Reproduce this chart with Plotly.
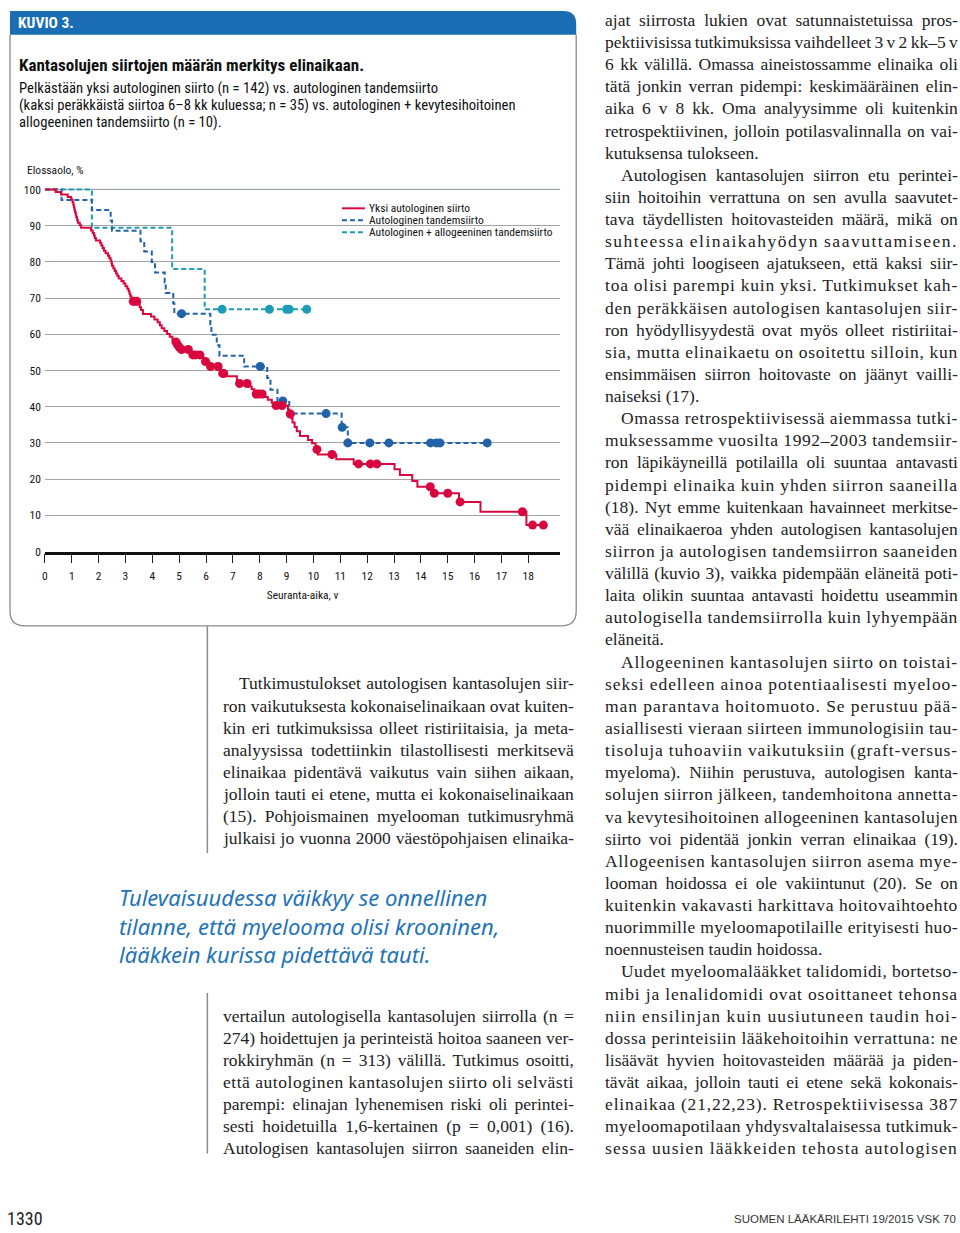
import json
import plotly.graph_objects as go

W, H = 960, 1233


def px(x):
    return x / W


def py(y):
    return 1 - y / H


# ---------------- data (Kaplan-Meier curves) ----------------
years = list(range(0, 19))
y_ticks = list(range(0, 101, 10))

# Yksi autologinen siirto (n = 142)
red_t = [0, 0.4, 0.6, 0.85, 0.98, 1.03, 1.06, 1.08, 1.1, 1.12, 1.15, 1.17, 1.2, 1.23, 1.3, 1.35,
         1.72, 1.78, 1.83, 1.86, 1.9, 2.06, 2.1, 2.15, 2.2, 2.26, 2.35, 2.4, 2.45, 2.48, 2.5, 2.55,
         2.6, 2.65, 2.7, 2.75, 2.85, 2.93, 3.0, 3.07, 3.12, 3.15, 3.18, 3.22, 3.25, 3.48, 3.53, 3.58,
         3.65, 3.95, 4.08, 4.2, 4.28, 4.35, 4.45, 4.55, 4.65, 4.75, 4.85, 4.91, 4.97, 5.04, 5.45, 5.5,
         5.9, 5.95, 6.12, 6.55, 6.6, 6.7, 7.15, 7.2, 7.6, 7.7, 7.8, 7.85, 8.2, 8.3, 8.45, 8.55, 9.05,
         9.1, 9.18, 9.22, 9.3, 9.38, 9.5, 9.8, 9.95, 10.08, 10.16, 10.85, 11.5, 13.02, 13.22, 13.68,
         13.87, 14.45, 15.42, 16.22, 17.93, 18.56]
red_s = [100, 99.3, 98.6, 97.9, 97.2, 96.5, 95.8, 95.1, 94.4, 93.7, 93.0, 92.3, 91.5, 90.8, 90.1, 89.4,
         88.7, 88.0, 87.3, 86.6, 85.9, 85.2, 84.5, 83.8, 83.1, 82.4, 81.7, 81.0, 80.3, 79.6, 78.9, 78.2,
         77.5, 76.8, 76.1, 75.4, 74.7, 74.0, 73.3, 72.6, 71.9, 71.2, 70.5, 69.8, 69.1, 68.3, 67.5, 66.7,
         65.6, 64.9, 64.1, 63.3, 62.5, 61.7, 60.9, 60.1, 59.3, 58.5, 57.9, 57.2, 56.5, 55.8, 55.0, 54.3,
         53.4, 52.5, 51.1, 49.9, 49.2, 48.4, 47.3, 46.4, 45.6, 44.8, 44.0, 43.5, 42.7, 41.9, 41.1, 40.3, 39.2,
         38.0, 36.8, 35.6, 34.4, 33.2, 31.9, 30.8, 29.9, 28.2, 26.8, 25.5, 24.2, 22.7, 21.1, 19.5,
         17.9, 16.1, 13.7, 11.0, 7.3, 7.3]
red_cens_t = [3.29, 3.35, 3.42, 4.88, 4.93, 5.0, 5.09, 5.34, 5.51, 5.61, 5.77, 5.98, 6.17, 6.45, 6.62,
              6.66, 7.25, 7.53, 7.87, 7.97, 8.09, 8.61, 8.83, 9.14, 10.13, 10.69, 11.68, 12.12, 12.36,
              14.35, 14.5, 15.0, 15.46, 17.78, 18.16, 18.56]
red_cens_s = [69.1, 69.1, 69.1, 57.9, 57.2, 56.5, 55.8, 55.8, 54.3, 54.3, 54.3, 52.5, 51.1, 51.1, 49.2,
              49.2, 46.4, 46.4, 43.5, 43.5, 43.5, 40.3, 40.3, 38.0, 28.2, 26.8, 24.2, 24.2, 24.2,
              17.9, 16.1, 16.1, 13.7, 11.0, 7.3, 7.3]

# Autologinen tandemsiirto (n = 35)
blue_t = [0, 0.62, 1.75, 2.45, 2.5, 3.56, 3.7, 3.98, 4.1, 4.46, 4.5, 4.78, 4.82, 6.16, 6.2, 6.4, 6.5,
          7.42, 8.28, 8.4, 8.66, 9.1, 11.05, 11.28, 16.47]
blue_s = [100, 97.1, 94.3, 91.4, 88.6, 85.7, 82.9, 80.0, 77.1, 74.3, 71.4, 68.6, 65.7, 62.8, 59.9, 57.0,
          54.1, 51.1, 47.9, 44.7, 41.6, 38.1, 34.3, 30.0, 30.0]
blue_cens_t = [5.09, 8.02, 8.86, 10.47, 11.07, 11.28, 12.1, 12.81, 14.36, 14.58, 14.71, 16.47]
blue_cens_s = [65.7, 51.1, 41.6, 38.1, 34.3, 30.0, 30.0, 30.0, 30.0, 30.0, 30.0, 30.0]

# Autologinen + allogeeninen tandemsiirto (n = 10)
teal_t = [0, 1.75, 4.74, 5.95, 9.75]
teal_s = [100, 89.4, 78.0, 66.9, 66.9]
teal_cens_t = [6.6, 8.36, 9.0, 9.1, 9.75]
teal_cens_s = [66.9, 66.9, 66.9, 66.9, 66.9]

legend_labels = ["Yksi autologinen siirto", "Autologinen tandemsiirto",
                 "Autologinen + allogeeninen tandemsiirto"]

# ---------------- text content ----------------
title = "Kantasolujen siirtojen määrän merkitys elinaikaan."
subtitle = ["Pelkästään yksi autologinen siirto (n = 142) vs. autologinen tandemsiirto",
            "(kaksi peräkkäistä siirtoa 6–8 kk kuluessa; n = 35) vs. autologinen + kevytesihoitoinen",
            "allogeeninen tandemsiirto (n = 10)."]

mid_upper = ["Tutkimustulokset autologisen kantasolujen siir-",
             "ron vaikutuksesta kokonaiselinaikaan ovat kuiten-",
             "kin eri tutkimuksissa olleet ristiriitaisia, ja meta-",
             "analyysissa todettiinkin tilastollisesti merkitsevä",
             "elinaikaa pidentävä vaikutus vain siihen aikaan,",
             "jolloin tauti ei etene, mutta ei kokonaiselinaikaan",
             "(15). Pohjoismainen myelooman tutkimusryhmä",
             "julkaisi jo vuonna 2000 väestöpohjaisen elinaika-"]

mid_lower = ["vertailun autologisella kantasolujen siirrolla (n =",
             "274) hoidettujen ja perinteistä hoitoa saaneen ver-",
             "rokkiryhmän (n = 313) välillä. Tutkimus osoitti,",
             "että autologinen kantasolujen siirto oli selvästi",
             "parempi: elinajan lyhenemisen riski oli perintei-",
             "sesti hoidetuilla 1,6-kertainen (p = 0,001) (16).",
             "Autologisen kantasolujen siirron saaneiden elin-"]

quote = ["Tulevaisuudessa väikkyy se onnellinen",
         "tilanne, että myelooma olisi krooninen,",
         "lääkkein kurissa pidettävä tauti."]

right_col = ["ajat siirrosta lukien ovat satunnaistetuissa pros-",
             "pektiivisissa tutkimuksissa vaihdelleet 3 v 2 kk–5 v",
             "6 kk välillä. Omassa aineistossamme elinaika oli",
             "tätä jonkin verran pidempi: keskimääräinen elin-",
             "aika 6 v 8 kk. Oma analyysimme oli kuitenkin",
             "retrospektiivinen, jolloin potilasvalinnalla on vai-",
             "kutuksensa tulokseen.",
             "Autologisen kantasolujen siirron etu perintei-",
             "siin hoitoihin verrattuna on sen avulla saavutet-",
             "tava täydellisten hoitovasteiden määrä, mikä on",
             "suhteessa elinaikahyödyn saavuttamiseen.",
             "Tämä johti loogiseen ajatukseen, että kaksi siir-",
             "toa olisi parempi kuin yksi. Tutkimukset kah-",
             "den peräkkäisen autologisen kantasolujen siir-",
             "ron hyödyllisyydestä ovat myös olleet ristiriitai-",
             "sia, mutta elinaikaetu on osoitettu silloin, kun",
             "ensimmäisen siirron hoitovaste on jäänyt vailli-",
             "naiseksi (17).",
             "Omassa retrospektiivisessä aiemmassa tutki-",
             "muksessamme vuosilta 1992–2003 tandemsiir-",
             "ron läpikäyneillä potilailla oli suuntaa antavasti",
             "pidempi elinaika kuin yhden siirron saaneilla",
             "(18). Nyt emme kuitenkaan havainneet merkitse-",
             "vää elinaikaeroa yhden autologisen kantasolujen",
             "siirron ja autologisen tandemsiirron saaneiden",
             "välillä (kuvio 3), vaikka pidempään eläneitä poti-",
             "laita olikin suuntaa antavasti hoidettu useammin",
             "autologisella tandemsiirrolla kuin lyhyempään",
             "eläneitä.",
             "Allogeeninen kantasolujen siirto on toistai-",
             "seksi edelleen ainoa potentiaalisesti myeloo-",
             "man parantava hoitomuoto. Se perustuu pää-",
             "asiallisesti vieraan siirteen immunologisiin tau-",
             "tisoluja tuhoaviin vaikutuksiin (graft-versus-",
             "myeloma). Niihin perustuva, autologisen kanta-",
             "solujen siirron jälkeen, tandemhoitona annetta-",
             "va kevytesihoitoinen allogeeninen kantasolujen",
             "siirto voi pidentää jonkin verran elinaikaa (19).",
             "Allogeenisen kantasolujen siirron asema mye-",
             "looman hoidossa ei ole vakiintunut (20). Se on",
             "kuitenkin vakavasti harkittava hoitovaihtoehto",
             "nuorimmille myeloomapotilaille erityisesti huo-",
             "noennusteisen taudin hoidossa.",
             "Uudet myeloomalääkket talidomidi, bortetso-",
             "mibi ja lenalidomidi ovat osoittaneet tehonsa",
             "niin ensilinjan kuin uusiutuneen taudin hoi-",
             "dossa perinteisiin lääkehoitoihin verrattuna: ne",
             "lisäävät hyvien hoitovasteiden määrää ja piden-",
             "tävät aikaa, jolloin tauti ei etene sekä kokonais-",
             "elinaikaa (21,22,23). Retrospektiivisessa 387",
             "myeloomapotilaan yhdysvaltalaisessa tutkimuk-",
             "sessa uusien lääkkeiden tehosta autologisen"]
right_indent = {7, 18, 29, 43}
right_para_end = {6, 17, 28, 42}

# ---------------- styles ----------------
RED = "#d8083e"
BLUE = "#2262a8"
TEAL = "#1d9db5"
HEADER_BLUE = "#1b6db4"
COND = "'Liberation Sans Narrow', 'Arial Narrow', 'Roboto Condensed', sans-serif"
SANS = "'Liberation Sans', Arial, sans-serif"
SERIF = "'Liberation Serif', 'Times New Roman', serif"
QUOTE_FONT = "'Noto Sans', 'Open Sans', sans-serif"
DASH = "5px,3px"
BODY = 17.5

fig = go.Figure()
fig.add_trace(go.Scatter(x=teal_t, y=teal_s, mode="lines", name=legend_labels[2],
                         line=dict(color=TEAL, width=2, dash=DASH, shape="hv")))
fig.add_trace(go.Scatter(x=teal_cens_t, y=teal_cens_s, mode="markers", name=legend_labels[2],
                         marker=dict(color=TEAL, size=9)))
fig.add_trace(go.Scatter(x=blue_t, y=blue_s, mode="lines", name=legend_labels[1],
                         line=dict(color=BLUE, width=2, dash=DASH, shape="hv")))
fig.add_trace(go.Scatter(x=blue_cens_t, y=blue_cens_s, mode="markers", name=legend_labels[1],
                         marker=dict(color=BLUE, size=9)))
fig.add_trace(go.Scatter(x=red_t, y=red_s, mode="lines", name=legend_labels[0],
                         line=dict(color=RED, width=2, shape="hv")))
fig.add_trace(go.Scatter(x=red_cens_t, y=red_cens_s, mode="markers", name=legend_labels[0],
                         marker=dict(color=RED, size=9)))

annotations = []
justify = []  # [annotation index, right edge px]


def txt(x, y, s, size, family, color="#1a1a1a", xanchor="left"):
    annotations.append(dict(x=px(x), y=py(y), xref="paper", yref="paper", text=s,
                            showarrow=False, xanchor=xanchor, yanchor="middle", align="left",
                            font=dict(size=size, family=family, color=color)))
    return len(annotations) - 1


# figure box texts
txt(13, 20, "<b>KUVIO 3.</b>", 15.5, COND, color="white")
txt(14, 63, "<b>" + title + "</b>", 17, COND, color="#111")
for i, line in enumerate(subtitle):
    txt(14, 86 + i * 17, line, 14.7, COND, color="#111")
txt(22, 168, "Elossaolo, %", 11.5, COND, color="#111")

legend_colors = [RED, BLUE, TEAL]
legend_dash = ["solid", DASH, DASH]
for i, lab in enumerate(legend_labels):
    txt(365, 207 + i * 12, lab, 11.5, COND, color="#111")

# body text (justified columns)
for i, line in enumerate(mid_upper):
    k = txt(235 if i == 0 else 219, 686 + i * 22.3, line, BODY, SERIF, color="#222")
    justify.append([k, 574])
for i, line in enumerate(mid_lower):
    k = txt(219, 1021 + i * 22.3, line, BODY, SERIF, color="#222")
    justify.append([k, 574])
txt(114, 930, "<i>" + "<br>".join(quote) + "</i>", 22, QUOTE_FONT, color="#1f74b8")
for i, line in enumerate(right_col):
    k = txt(618 if i in right_indent else 602, 17 + i * 22.31, line, BODY, SERIF, color="#222")
    if i not in right_para_end:
        justify.append([k, 958])

# footer
txt(2, 1225, "1330", 18, COND, color="#222")
txt(958, 1226, "SUOMEN LÄÄKÄRILEHTI 19/2015 VSK 70", 11.5, SANS, color="#333", xanchor="right")


def P(x, y):
    return f"{px(x):.5f},{py(y):.5f}"


shapes = []
# header bar
shapes.append(dict(type="path", xref="paper", yref="paper", layer="below",
                   path=f"M {P(7, 32)} L {P(7, 8)} L {P(562, 8)} Q {P(575, 8)} {P(575, 21)} L {P(575, 32)} Z",
                   fillcolor=HEADER_BLUE, line=dict(width=0)))
# box outline
shapes.append(dict(type="path", xref="paper", yref="paper", layer="below",
                   path=f"M {P(7, 32)} L {P(7, 613)} Q {P(7, 628)} {P(22, 628)} L {P(560, 628)} "
                        f"Q {P(575, 628)} {P(575, 613)} L {P(575, 32)}",
                   fillcolor="rgba(0,0,0,0)", line=dict(color="#8a8a8a", width=1.3)))
# column rules
shapes.append(dict(type="line", xref="paper", yref="paper", x0=px(205), x1=px(205), y0=py(628), y1=py(857),
                   line=dict(color="#8c8c8c", width=1.5)))
shapes.append(dict(type="line", xref="paper", yref="paper", x0=px(205), x1=px(205), y0=py(998), y1=py(1160),
                   line=dict(color="#8c8c8c", width=1.5)))
# lighter top gridline at 100
shapes.append(dict(type="line", xref="paper", yref="y", x0=px(42), x1=px(559), y0=100, y1=100,
                   layer="between", line=dict(color="#a8c0cf", width=1.3)))
# white legend background (hides the 90 gridline behind the legend)
shapes.append(dict(type="rect", xref="paper", yref="paper", x0=px(310), x1=px(560), y0=py(238), y1=py(213),
                   layer="between", fillcolor="white", line=dict(width=0)))
for i in range(3):
    shapes.append(dict(type="line", xref="paper", yref="paper", x0=px(340), x1=px(363),
                       y0=py(207 + i * 12), y1=py(207 + i * 12), layer="above",
                       line=dict(color=legend_colors[i], width=2, dash=legend_dash[i])))

fig.update_layout(
    width=W, height=H,
    margin=dict(l=0, r=0, t=0, b=0),
    paper_bgcolor="white", plot_bgcolor="rgba(0,0,0,0)",
    showlegend=False,
    xaxis=dict(domain=[px(42), px(559)], range=[0, 19.19], tickmode="array", tickvals=years,
               ticktext=[str(v) for v in years], ticks="outside", ticklen=9, tickwidth=1.3,
               tickcolor="#222", showline=True, linecolor="#111", linewidth=2.5, showgrid=False,
               zeroline=False, tickfont=dict(family=COND, size=11.5, color="#111"),
               ticklabelstandoff=3,
               title=dict(text="Seuranta-aika, v", font=dict(family=COND, size=11.5, color="#111"),
                          standoff=9)),
    yaxis=dict(domain=[py(553), py(184.35)], range=[0, 101], tickmode="array", tickvals=y_ticks,
               ticktext=[str(v) for v in y_ticks], showgrid=True, gridcolor="#a3a3a3", gridwidth=1.3,
               zeroline=False, showline=False, ticks="", ticklabelstandoff=3,
               tickfont=dict(family=COND, size=11.5, color="#111")),
    annotations=annotations,
    shapes=shapes,
)

# page margin reset + justification of the body-text lines (word / letter spacing)
post = """
document.body.style.margin='0';
var J = %s;
var gd = document.querySelector('.plotly-graph-div');
J.forEach(function(p){
  var g = gd.querySelector('g.annotation[data-index="' + p[0] + '"]');
  if (!g) return;
  var t = g.querySelector('text');
  if (!t) return;
  t.style.wordSpacing = '0px';
  t.style.letterSpacing = '0px';
  var r = t.getBoundingClientRect();
  var extra = p[1] - r.right;
  var txt = t.textContent;
  var n = (txt.match(/ /g) || []).length;
  if (n > 0 && extra / n <= 5) {
    t.style.wordSpacing = (extra / n) + 'px';
  } else if (txt.length > 1) {
    var ls = extra / (txt.length - 1);
    t.style.letterSpacing = ls + 'px';
    var r2 = t.getBoundingClientRect();
    if (n > 0) { t.style.wordSpacing = ((p[1] - r2.right) / n) + 'px'; }
  }
});
""" % json.dumps(justify)

fig.write_html("out.html", config={"displayModeBar": False}, post_script=post)
